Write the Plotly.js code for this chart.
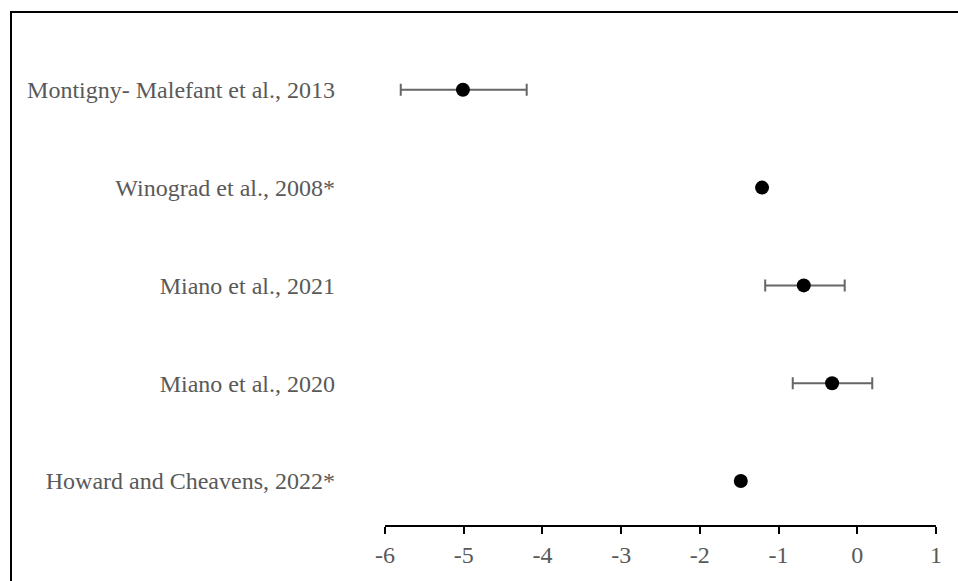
<!DOCTYPE html>
<html>
<head>
<meta charset="utf-8">
<script src="https://cdn.plot.ly/plotly-3.0.1.min.js"></script>
<style>
  html, body { margin: 0; padding: 0; background: #ffffff; overflow: hidden; }
  #wrap { position: relative; width: 958px; height: 581px; overflow: hidden; }
  #chart { position: absolute; left: 0; top: 0; width: 958px; height: 581px; }
  #frame { position: absolute; left: 10px; top: 11px; width: 1000px; height: 1000px;
           border: 2px solid #000000; pointer-events: none; }
</style>
</head>
<body>
<div id="wrap">
  <div id="chart"></div>
  <div id="frame"></div>
</div>
<script>
// Studies, bottom to top
const studies = [
  "Howard and Cheavens, 2022*",
  "Miano et al., 2020",
  "Miano et al., 2021",
  "Winograd et al., 2008*",
  "Montigny- Malefant et al., 2013"
];
// Effect estimates
const estimates = [-1.48, -0.32, -0.68, -1.21, -5.01];
// Lower and upper interval bounds (null where no interval is shown)
const lowerBounds = [null, -0.82, -1.17, null, -5.80];
const upperBounds = [null, 0.19, -0.16, null, -4.20];
// X axis ticks
const xTicks = [-6, -5, -4, -3, -2, -1, 0, 1];

const plusErr = estimates.map((v, i) => upperBounds[i] === null ? NaN : upperBounds[i] - v);
const minusErr = estimates.map((v, i) => lowerBounds[i] === null ? NaN : v - lowerBounds[i]);

const labelFont = { family: "Liberation Serif, Times New Roman, serif", size: 24, color: "#595959" };

const traces = [{
  type: "scatter",
  mode: "markers",
  x: estimates,
  y: studies,
  marker: { color: "#000000", size: 14 },
  error_x: {
    type: "data",
    symmetric: false,
    array: plusErr,
    arrayminus: minusErr,
    color: "#666666",
    thickness: 2,
    width: 6,
    visible: true
  },
  hoverinfo: "x+y"
}];

const layout = {
  width: 958,
  height: 581,
  margin: { l: 385, r: 22, t: 36, b: 56 },
  paper_bgcolor: "#ffffff",
  plot_bgcolor: "#ffffff",
  showlegend: false,
  xaxis: {
    range: [-6, 1],
    tickvals: xTicks,
    ticktext: xTicks.map(String),
    showgrid: false,
    zeroline: false,
    showline: true,
    linecolor: "#000000",
    linewidth: 2,
    ticks: "outside",
    ticklen: 7,
    tickwidth: 2,
    tickcolor: "#000000",
    tickfont: labelFont,
    fixedrange: true
  },
  yaxis: {
    type: "category",
    categoryorder: "array",
    categoryarray: studies,
    range: [-0.45, 4.55],
    showgrid: false,
    zeroline: false,
    showline: false,
    ticks: "",
    ticklabelstandoff: 49,
    tickfont: labelFont,
    fixedrange: true
  }
};

Plotly.newPlot("chart", traces, layout, { displayModeBar: false, staticPlot: true });
</script>
</body>
</html>
